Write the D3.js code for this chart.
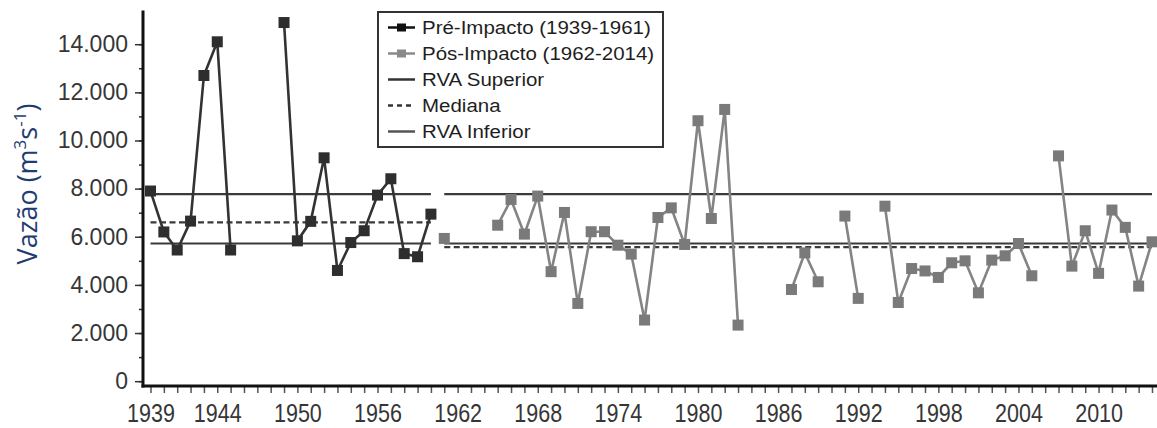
<!DOCTYPE html>
<html><head><meta charset="utf-8">
<script src="https://cdn.jsdelivr.net/npm/d3@7"></script>
<style>body{margin:0;background:#fff}svg{display:block;font-family:"Liberation Sans",Arial,sans-serif}</style>
</head><body><svg id="c" width="1157" height="428"></svg>
<script>
// ---- data ----
const years = d3.range(1939, 2015);
const preYears = d3.range(1939, 1961);
const preValues = [7900, 6200, 5450, 6650, 12700, 14100, 5450, null, null, null,
  14900, 5830, 6640, 9280, 4600, 5760, 6250, 7730, 8410, 5300, 5170, 6940];
const postYears = d3.range(1961, 2015);
const postValues = [5930, null, null, null, 6480, 7550, 6110, 7690, 4550, 7010,
  3230, 6210, 6210, 5650, 5280, 2540, 6800, 7200, 5680, 10820,
  6760, 11290, 2330, null, null, null, 3810, 5330, 4130, null,
  6860, 3440, null, 7270, 3270, 4680, 4580, 4310, 4920, 5000,
  3670, 5030, 5210, 5720, 4380, null, 9360, 4780, 6250, 4480,
  7110, 6390, 3950, 5790];
const tickYears = [1939, 1944, 1950, 1956, 1962, 1968, 1974, 1980, 1986, 1992, 1998, 2004, 2010];
const yMajorTicks = [0, 2000, 4000, 6000, 8000, 10000, 12000, 14000];
const yMinorTicks = [0, 1000, 2000, 3000, 4000, 5000, 6000, 7000, 8000, 9000, 10000, 11000, 12000, 13000, 14000];
const rvaSuperior = 7770;
const rvaInferior = 5720;
const medianPre = 6600;
const medianPost = 5570;
const legendLabels = ["Pré-Impacto (1939-1961)", "Pós-Impacto (1962-2014)", "RVA Superior", "Mediana", "RVA Inferior"];

// ---- layout ----
const W = 1157, H = 428;
const svg = d3.select('#c');
const x = d3.scaleLinear().domain([1939, 2014]).range([150.5, 1152]);
const y = d3.scaleLinear().domain([-200, 15400]).range([386, 10.5]);
const axisX = 143, axisY = 386;
const loc = d3.formatLocale({decimal: ",", thousands: ".", grouping: [3], currency: ["R$", ""]});
const fmt = loc.format(",d");

// reference lines
const refLines = [
  {x0: 1939, x1: 1960, v: rvaSuperior, dash: null},
  {x0: 1939, x1: 1960, v: medianPre, dash: "6,3.5"},
  {x0: 1939, x1: 1960, v: rvaInferior, dash: null},
  {x0: 1961, x1: 2014, v: rvaSuperior, dash: null},
  {x0: 1961, x1: 2014, v: rvaInferior, dash: null},
  {x0: 1961, x1: 2014, v: medianPost, dash: "6,3.5"}
];
svg.append('g').selectAll('line').data(refLines).join('line')
  .attr('x1', d => x(d.x0)).attr('x2', d => x(d.x1))
  .attr('y1', d => y(d.v)).attr('y2', d => y(d.v))
  .attr('stroke', '#3a3a3a').attr('stroke-width', 2.2)
  .attr('stroke-dasharray', d => d.dash);

function drawSeries(yrs, vals, lineColor, markColor) {
  const pts = yrs.map((yr, i) => ({yr, v: vals[i]}));
  const line = d3.line().defined(d => d.v != null).x(d => x(d.yr)).y(d => y(d.v));
  svg.append('path').datum(pts).attr('d', line)
    .attr('fill', 'none').attr('stroke', lineColor).attr('stroke-width', 2.6);
  svg.append('g').selectAll('rect').data(pts.filter(d => d.v != null)).join('rect')
    .attr('x', d => x(d.yr) - 5.5).attr('y', d => y(d.v) - 5.5)
    .attr('width', 11).attr('height', 11).attr('fill', markColor);
}
drawSeries(preYears, preValues, '#333', '#2e2e2e');
drawSeries(postYears, postValues, '#848484', '#7a7a7a');

// ---- axes ----
const gy = svg.append('g').attr('transform', `translate(${axisX},0)`);
gy.call(d3.axisLeft(y).tickValues(yMinorTicks).tickSize(4).tickFormat(''));
gy.select('.domain').remove();
const gy2 = svg.append('g').attr('transform', `translate(${axisX},0)`);
gy2.call(d3.axisLeft(y).tickValues(yMajorTicks).tickSize(8).tickPadding(7).tickFormat(fmt));
gy2.select('.domain').remove();
gy2.selectAll('text').attr('font-size', 23).attr('fill', '#363636').attr('font-family', '"Liberation Sans",Arial,sans-serif');
svg.selectAll('.tick line').attr('stroke', '#333').attr('stroke-width', 1.5);

const gx = svg.append('g').attr('transform', `translate(0,${axisY})`);
gx.call(d3.axisBottom(x).tickValues(years).tickSize(7).tickFormat(''));
gx.select('.domain').remove();
gx.selectAll('.tick line').attr('stroke', '#555').attr('stroke-width', 1.5);
const gx2 = svg.append('g').attr('transform', `translate(0,${axisY})`);
gx2.call(d3.axisBottom(x).tickValues(tickYears).tickSize(0).tickPadding(18).tickFormat(d3.format('d')));
gx2.select('.domain').remove();
gx2.selectAll('text').attr('font-size', 25).attr('fill', '#363636').attr('font-family', '"Liberation Sans",Arial,sans-serif')
  .each(function() { const L = this.getComputedTextLength(); d3.select(this).attr('textLength', L * 0.86).attr('lengthAdjust', 'spacingAndGlyphs'); });

// axis lines
svg.append('line').attr('x1', axisX).attr('x2', axisX).attr('y1', y.range()[1]).attr('y2', axisY + 1.5)
  .attr('stroke', '#111').attr('stroke-width', 3);
svg.append('line').attr('x1', axisX - 1.5).attr('x2', W).attr('y1', axisY).attr('y2', axisY)
  .attr('stroke', '#111').attr('stroke-width', 3);

// y title
const t = svg.append('text').attr('transform', 'translate(37,184) rotate(-90)')
  .attr('text-anchor', 'middle').attr('font-size', 27).attr('fill', '#1f3c73')
  .attr('font-family', '"Open Sans","Liberation Sans",sans-serif');
t.append('tspan').text('Vazão (m');
t.append('tspan').text('3').attr('font-size', 17).attr('dy', -11);
t.append('tspan').text('s').attr('dy', 11);
t.append('tspan').text('-1').attr('font-size', 17).attr('dy', -11);
t.append('tspan').text(')').attr('dy', 11);

// ---- legend ----
const lg = svg.append('g');
lg.append('rect').attr('x', 378).attr('y', 12).attr('width', 285).attr('height', 135)
  .attr('fill', '#fff').attr('stroke', '#333').attr('stroke-width', 2);
const styles = [
  {c: '#111', dash: null, mark: '#111'},
  {c: '#8a8a8a', dash: null, mark: '#8a8a8a'},
  {c: '#333', dash: null, mark: null},
  {c: '#333', dash: '5,4', mark: null},
  {c: '#555', dash: null, mark: null}
];
const items = lg.selectAll('g.it').data(legendLabels).join('g').attr('class', 'it')
  .attr('transform', (d, i) => `translate(0,${27.5 + i * 26})`);
items.append('line').attr('x1', 388).attr('x2', 415).attr('y1', 0).attr('y2', 0)
  .attr('stroke', (d, i) => styles[i].c).attr('stroke-width', 2.5)
  .attr('stroke-dasharray', (d, i) => styles[i].dash);
items.filter((d, i) => styles[i].mark).append('rect')
  .attr('x', 397).attr('y', -4).attr('width', 9).attr('height', 8)
  .attr('fill', (d, i) => styles[legendLabels.indexOf(d)].mark);
items.append('text').attr('x', 422).attr('dy', '0.36em').attr('font-size', 17.5).attr('fill', '#1e1e1e')
  .text(d => d)
  .each(function() { const L = this.getComputedTextLength(); d3.select(this).attr('textLength', L * 1.17).attr('lengthAdjust', 'spacingAndGlyphs'); });
</script></body></html>
